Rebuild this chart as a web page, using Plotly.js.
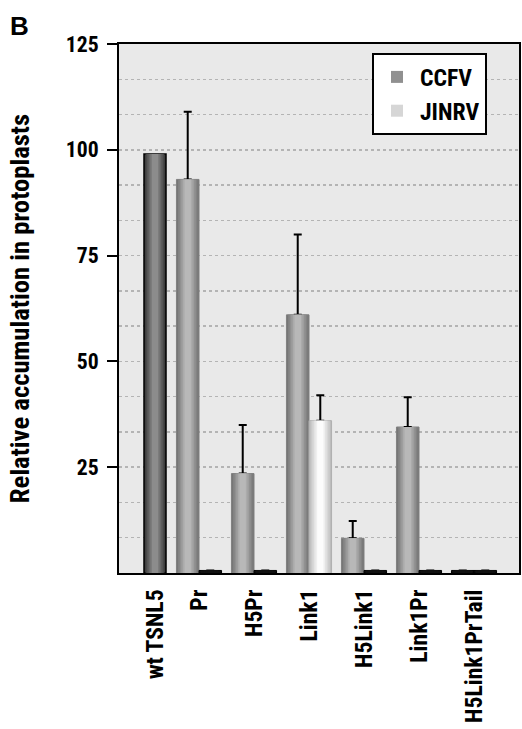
<!DOCTYPE html>
<html><head><meta charset="utf-8">
<script src="https://cdn.plot.ly/plotly-3.0.1.min.js"></script>
<style>html,body{margin:0;padding:0;background:#fff}#chart{width:522px;height:729px}</style>
</head><body><div id="chart"></div>
<script>
// ---- data ----
const categories = ['wt TSNL5', 'Pr', 'H5Pr', 'Link1', 'H5Link1', 'Link1Pr', 'H5Link1PrTail'];
const wtValues = [99];
const ccfvValues = [null, 93, 23.5, 61, 8.2, 34.5, 0.6];
const ccfvErrors = [null, 16, 11.5, 19, 4.1, 7, 0];
const jinrvValues = [null, 0.6, 0.6, 36, 0.6, 0.6, 0.6];
const jinrvErrors = [null, 0, 0, 6, 0, 0, 0];
const yTicks = [25, 50, 75, 100, 125];
const yTitle = 'Relative accumulation in protoplasts';

// ---- font choice (condensed bold face if one is installed) ----
const ctx = document.createElement('canvas').getContext('2d');
function width(fam, size, s){ ctx.font = 'bold ' + size + 'px ' + fam; return ctx.measureText(s).width; }
function hasFont(name){
  const s = 'H5Link1PrTail wt TSNL5 mmmWWiil';
  return width('monospace', 40, s) !== width("'" + name + "', monospace", 40, s);
}
const candidates = ['Liberation Sans Narrow', 'Arial Narrow', 'Roboto Condensed', 'DejaVu Sans Condensed', 'Open Sans Condensed'];
let family = "'Liberation Sans', Arial, sans-serif";
for (const c of candidates) { if (hasFont(c)) { family = "'" + c + "', 'Liberation Sans', sans-serif"; break; } }
function fit(s, target, maxSize){ const w = width(family, 100, s); return Math.min(maxSize, Math.floor(100 * target / w * 10) / 10); }
const xTickSize = fit('H5Link1PrTail', 134, 27);
const yTickSize = fit('125', 33, 24);
const yTitleSize = fit(yTitle, 390, 28);
const legendSize = fit('CCFV', 52, 26);

// ---- helpers ----
function hex(c){return [1,3,5].map(i=>parseInt(c.substr(i,2),16));}
function mix(a,b,t){const A=hex(a),B=hex(b);return 'rgb('+A.map((v,i)=>Math.round(v+(B[i]-v)*t)).join(',')+')';}

const idx = categories.map((c,i)=>i);
function layered(opt){
  const N = 6, out = [];
  const xs = opt.x, ys = opt.y;
  for(let k=0;k<N;k++){
    const inset = opt.width*0.36*k/(N-1);
    const col = mix(opt.edge, opt.center, k/(N-1));
    const colors = ys.map(v => (v !== null && v < 1) ? '#111' : col);
    const t = {
      type:'bar', name:opt.name, x:xs, y:ys,
      offset: opt.offset + inset, width: opt.width - 2*inset,
      legendgroup: opt.name, showlegend: !!opt.legend && k===2,
      marker:{color:colors, line:{color: k===0 ? ys.map(v => (v!==null && v<1) ? '#000' : opt.outline) : 'rgba(0,0,0,0)', width: k===0 ? opt.lw : 0}},
      hoverinfo:'x+y'
    };
    if(k===0 && opt.err){
      t.error_y = {type:'data', symmetric:false, array:opt.err, arrayminus:opt.err.map(()=>0), color:'#000', thickness:2, width:4};
    }
    out.push(t);
  }
  return out;
}

const BW = 0.41;
const traces = [].concat(
  layered({name:'wt TSNL5', x:[idx[0]], y:wtValues, offset:0, width:0.4, edge:'#383838', center:'#8c8c8c', outline:'#000', lw:1.5}),
  layered({name:'CCFV', x:idx, y:ccfvValues, err:ccfvErrors, offset:-BW, width:BW, edge:'#767676', center:'#b8b8b8', outline:'#808080', lw:1, legend:true}),
  layered({name:'JINRV', x:idx, y:jinrvValues, err:jinrvErrors, offset:0, width:BW, edge:'#bdbdbd', center:'#fcfcfc', outline:'#b0b0b0', lw:1, legend:true})
);

const tickvals = idx.map(i => i===0 ? i+0.2 : i);

const layout = {
  width:522, height:729,
  margin:{l:119, r:3, t:44, b:156},
  paper_bgcolor:'#fff', plot_bgcolor:'#e9e9e9',
  barmode:'overlay',
  font:{family:family, size:22, color:'#000', weight:'bold'},
  title:{text:'B', xref:'container', yref:'container', x:10/522, xanchor:'left', y:1-26/729, yanchor:'middle',
         font:{family:"'Liberation Sans', Arial, sans-serif", size:26, weight:'bold'}},
  xaxis:{range:[-0.4545, 6.818], tickmode:'array', tickvals:tickvals, ticktext:categories, tickangle:-90, ticks:'',
         showline:true, linecolor:'#000', linewidth:2, mirror:true, showgrid:false, zeroline:false,
         tickfont:{size:xTickSize}, ticklabelstandoff:5, automargin:false, fixedrange:true},
  yaxis:{range:[0,125], tickmode:'array', tickvals:yTicks, ticks:'outside', ticklen:10, tickwidth:2, tickcolor:'#000',
         showline:true, linecolor:'#000', linewidth:2, mirror:true,
         showgrid:true, gridcolor:'#b4b4b4', gridwidth:1.5, griddash:'dot',
         minor:{dtick:25/3, tick0:0, showgrid:true, gridcolor:'#b4b4b4', gridwidth:1.5, griddash:'dot', ticks:''},
         zeroline:false, tickfont:{size:yTickSize}, ticklabelstandoff:4, automargin:false, fixedrange:true,
         title:{text:yTitle, font:{size:yTitleSize}, standoff:28}},
  legend:{x:0.6325, y:0.983, xanchor:'left', yanchor:'top', bgcolor:'#fff', bordercolor:'#000', borderwidth:2,
          font:{size:legendSize}, tracegroupgap:6, itemwidth:36, traceorder:'normal'}
};

Plotly.newPlot('chart', traces, layout, {displayModeBar:false, staticPlot:true});
</script>
</body></html>
